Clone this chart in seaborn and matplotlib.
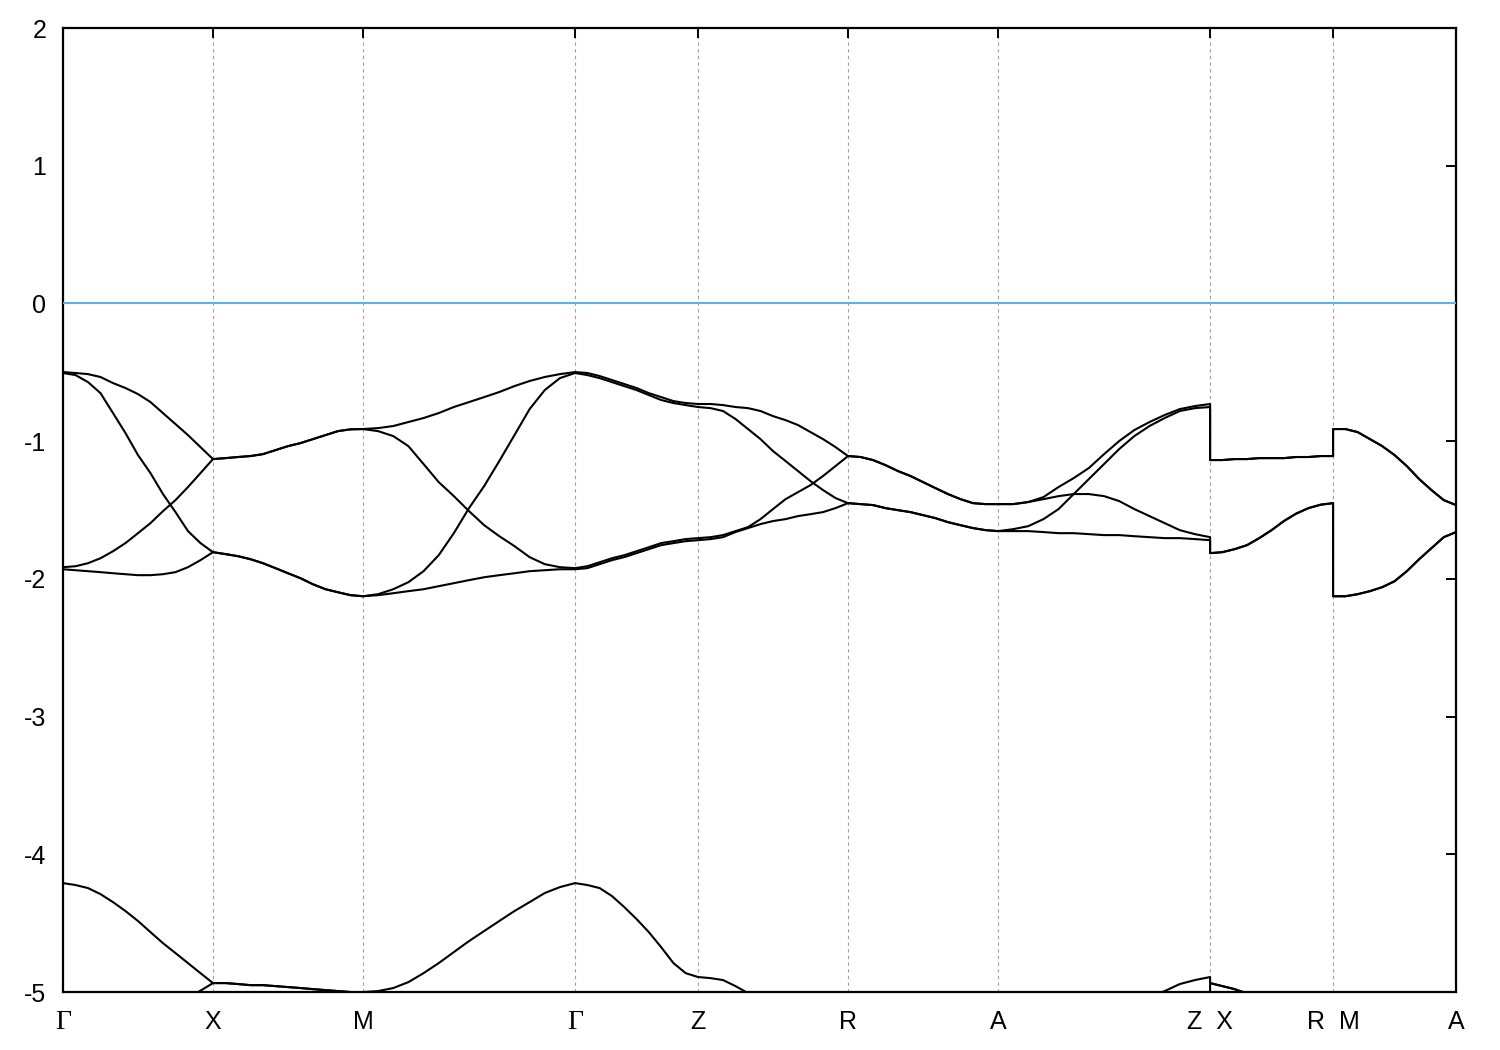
import matplotlib
matplotlib.use("Agg")
import matplotlib.pyplot as plt
import seaborn as sns
import pandas as pd

# ---------------- data ----------------
# high-symmetry points (k-path distance) and labels
K_TICKS = [0.0, 0.5, 1.0, 1.7071, 2.1171, 2.6171, 3.1171, 3.8242, 4.2342, 4.6442]
K_LABELS = ["Γ", "X", "M", "Γ", "Z", "R", "A", "Z  X", "R  M", "A"]
Y_TICKS = [-5, -4, -3, -2, -1, 0, 1, 2]

# k-path sample positions (segments: Γ-X, X-M, M-Γ, Γ-Z, Z-R, R-A, A-Z, X-R, M-A)
K = [0.0, 0.0417, 0.0833, 0.125, 0.1667, 0.2083, 0.25, 0.2917, 0.3333, 0.375, 0.4167, 0.4583, 0.5,
     0.5417, 0.5833, 0.625, 0.6667, 0.7083, 0.75, 0.7917, 0.8333, 0.875, 0.9167, 0.9583, 1.0,
     1.0505, 1.1010, 1.1515, 1.2020, 1.2525, 1.3030, 1.3536, 1.4041, 1.4546, 1.5051, 1.5556, 1.6061, 1.6566, 1.7071,
     1.7481, 1.7891, 1.8301, 1.8711, 1.9121, 1.9531, 1.9941, 2.0351, 2.0761, 2.1171,
     2.1588, 2.2004, 2.2421, 2.2838, 2.3254, 2.3671, 2.4088, 2.4504, 2.4921, 2.5338, 2.5754, 2.6171,
     2.6588, 2.7004, 2.7421, 2.7838, 2.8254, 2.8671, 2.9088, 2.9504, 2.9921, 3.0338, 3.0754, 3.1171,
     3.1676, 3.2181, 3.2686, 3.3191, 3.3696, 3.4201, 3.4707, 3.5212, 3.5717, 3.6222, 3.6727, 3.7232, 3.7737, 3.8242,
     3.8242, 3.8652, 3.9062, 3.9472, 3.9882, 4.0292, 4.0702, 4.1112, 4.1522, 4.1932, 4.2342,
     4.2342, 4.2752, 4.3162, 4.3572, 4.3982, 4.4392, 4.4802, 4.5212, 4.5622, 4.6032, 4.6442]

band1 = [-0.498, -0.505, -0.513, -0.534, -0.578, -0.614, -0.658, -0.716, -0.796, -0.876, -0.956, -1.043, -1.130,
         -1.123, -1.115, -1.108, -1.094, -1.065, -1.036, -1.014, -0.985, -0.956, -0.927, -0.914, -0.912,
         -0.905, -0.890, -0.861, -0.832, -0.796, -0.752, -0.716, -0.680, -0.643, -0.600, -0.563, -0.534, -0.513, -0.498,
         -0.505, -0.527, -0.556, -0.585, -0.614, -0.651, -0.680, -0.709, -0.723, -0.730,
         -0.730, -0.738, -0.752, -0.760, -0.781, -0.818, -0.847, -0.883, -0.934, -0.985, -1.043, -1.108,
         -1.115, -1.137, -1.174, -1.217, -1.253, -1.297, -1.341, -1.384, -1.421, -1.450, -1.457, -1.457,
         -1.457, -1.442, -1.406, -1.333, -1.268, -1.195, -1.094, -0.999, -0.919, -0.861, -0.810, -0.767, -0.745, -0.730,
         -1.137, -1.137, -1.130, -1.130, -1.123, -1.123, -1.123, -1.115, -1.115, -1.108, -1.108,
         -0.912, -0.912, -0.934, -0.985, -1.036, -1.101, -1.181, -1.275, -1.355, -1.428, -1.464]

band2 = [-0.505, -0.520, -0.571, -0.651, -0.796, -0.941, -1.101, -1.232, -1.384, -1.515, -1.653, -1.740, -1.806,
         -1.820, -1.835, -1.857, -1.886, -1.922, -1.959, -1.995, -2.039, -2.075, -2.097, -2.118, -2.126,
         -2.111, -2.075, -2.024, -1.944, -1.828, -1.668, -1.486, -1.326, -1.144, -0.956, -0.767, -0.629, -0.542, -0.505,
         -0.520, -0.542, -0.571, -0.600, -0.629, -0.665, -0.701, -0.723, -0.738, -0.752,
         -0.760, -0.781, -0.839, -0.912, -0.985, -1.072, -1.144, -1.217, -1.290, -1.355, -1.413, -1.450,
         -1.457, -1.464, -1.486, -1.501, -1.515, -1.537, -1.559, -1.588, -1.610, -1.631, -1.646, -1.653,
         -1.639, -1.617, -1.566, -1.493, -1.384, -1.275, -1.166, -1.057, -0.963, -0.890, -0.832, -0.781, -0.760, -0.752,
         -1.137, -1.137, -1.130, -1.130, -1.123, -1.123, -1.123, -1.115, -1.115, -1.108, -1.108,
         -0.912, -0.912, -0.934, -0.985, -1.036, -1.101, -1.181, -1.275, -1.355, -1.428, -1.464]

band3 = [-1.915, -1.908, -1.886, -1.850, -1.799, -1.740, -1.668, -1.595, -1.508, -1.428, -1.333, -1.232, -1.130,
         -1.123, -1.115, -1.108, -1.094, -1.065, -1.036, -1.014, -0.985, -0.956, -0.927, -0.914, -0.912,
         -0.927, -0.963, -1.036, -1.166, -1.297, -1.399, -1.508, -1.610, -1.690, -1.762, -1.842, -1.893, -1.915, -1.922,
         -1.908, -1.879, -1.850, -1.828, -1.799, -1.770, -1.740, -1.726, -1.711, -1.704,
         -1.697, -1.682, -1.653, -1.624, -1.566, -1.493, -1.421, -1.370, -1.319, -1.253, -1.181, -1.108,
         -1.115, -1.137, -1.174, -1.217, -1.253, -1.297, -1.341, -1.384, -1.421, -1.450, -1.457, -1.457,
         -1.457, -1.442, -1.421, -1.399, -1.384, -1.384, -1.399, -1.435, -1.493, -1.544, -1.595, -1.646, -1.675, -1.697,
         -1.813, -1.806, -1.784, -1.755, -1.704, -1.646, -1.580, -1.526, -1.486, -1.461, -1.450,
         -2.126, -2.126, -2.111, -2.089, -2.060, -2.017, -1.944, -1.857, -1.777, -1.697, -1.660]

band4 = [-1.930, -1.937, -1.944, -1.951, -1.959, -1.966, -1.973, -1.973, -1.966, -1.951, -1.915, -1.864, -1.806,
         -1.820, -1.835, -1.857, -1.886, -1.922, -1.959, -1.995, -2.039, -2.075, -2.097, -2.118, -2.126,
         -2.118, -2.104, -2.089, -2.075, -2.053, -2.031, -2.009, -1.988, -1.973, -1.959, -1.944, -1.937, -1.930, -1.930,
         -1.922, -1.893, -1.864, -1.842, -1.813, -1.784, -1.755, -1.740, -1.726, -1.719,
         -1.711, -1.697, -1.660, -1.631, -1.602, -1.580, -1.566, -1.544, -1.530, -1.515, -1.486, -1.450,
         -1.457, -1.464, -1.486, -1.501, -1.515, -1.537, -1.559, -1.588, -1.610, -1.631, -1.646, -1.653,
         -1.653, -1.653, -1.660, -1.668, -1.668, -1.675, -1.682, -1.682, -1.690, -1.697, -1.704, -1.704, -1.711, -1.719,
         -1.813, -1.806, -1.784, -1.755, -1.704, -1.646, -1.580, -1.526, -1.486, -1.461, -1.450,
         -2.126, -2.126, -2.111, -2.089, -2.060, -2.017, -1.944, -1.857, -1.777, -1.697, -1.660]

band5 = [-4.209, -4.223, -4.245, -4.289, -4.347, -4.412, -4.484, -4.565, -4.645, -4.717, -4.790, -4.863, -4.935,
         -4.935, -4.942, -4.950, -4.950, -4.957, -4.964, -4.971, -4.979, -4.986, -4.993, -5.000, -5.000,
         -4.993, -4.971, -4.928, -4.863, -4.790, -4.710, -4.630, -4.557, -4.484, -4.412, -4.347, -4.281, -4.238, -4.209,
         -4.223, -4.245, -4.303, -4.383, -4.470, -4.565, -4.674, -4.790, -4.863, -4.891,
         -4.899, -4.913, -4.957, -5.008, -5.060, -5.110, -5.160, -5.200, -5.230, -5.250, -5.260, -5.270,
         -5.280, -5.290, -5.300, -5.310, -5.310, -5.310, -5.300, -5.290, -5.280, -5.270, -5.260, -5.250,
         -5.240, -5.220, -5.200, -5.180, -5.160, -5.140, -5.120, -5.100, -5.070, -5.035, -4.993, -4.942, -4.913, -4.891,
         -4.935, -4.957, -4.979, -5.008, -5.040, -5.070, -5.100, -5.120, -5.140, -5.150, -5.160,
         -5.000, -5.000, -5.020, -5.050, -5.090, -5.130, -5.170, -5.200, -5.220, -5.230, -5.240]

band6 = [-5.620, -5.580, -5.530, -5.470, -5.410, -5.350, -5.290, -5.230, -5.170, -5.100, -5.040, -4.990, -4.935,
         -4.935, -4.942, -4.950, -4.950, -4.957, -4.964, -4.971, -4.979, -4.986, -4.993, -5.000, -5.000,
         -5.010, -5.040, -5.080, -5.130, -5.190, -5.250, -5.310, -5.370, -5.420, -5.460, -5.490, -5.510, -5.520, -5.520,
         -5.510, -5.500, -5.480, -5.460, -5.440, -5.420, -5.400, -5.380, -5.370, -5.360,
         -5.360, -5.370, -5.390, -5.410, -5.440, -5.470, -5.500, -5.520, -5.540, -5.550, -5.560, -5.560,
         -5.560, -5.550, -5.540, -5.520, -5.500, -5.480, -5.460, -5.450, -5.440, -5.430, -5.430, -5.420,
         -5.420, -5.430, -5.440, -5.450, -5.460, -5.460, -5.450, -5.440, -5.420, -5.400, -5.380, -5.370, -5.360, -5.350,
         -4.935, -4.957, -4.979, -5.020, -5.070, -5.120, -5.170, -5.210, -5.250, -5.280, -5.300,
         -5.000, -5.010, -5.040, -5.090, -5.150, -5.210, -5.270, -5.320, -5.360, -5.390, -5.410]

BANDS = [band1, band2, band3, band4, band5, band6]

# ---------------- plot ----------------
sns.set_style("white")
plt.rcParams["font.family"] = ["Liberation Sans", "DejaVu Sans"]

fig = plt.figure(figsize=(15, 10.5), dpi=100)
ax = fig.add_axes([0.042, 0.0552, 0.9287, 0.9181])

for b in BANDS:
    df = pd.DataFrame({"k": K, "E": b})
    sns.lineplot(data=df, x="k", y="E", sort=False, estimator=None,
                 color="black", linewidth=1.5, ax=ax)

ax.axhline(0, color="#56b4e9", linewidth=1.5, zorder=3)

ax.set_xlim(K_TICKS[0], K_TICKS[-1])
ax.set_ylim(-5, 2)
ax.set_xticks(K_TICKS)
ax.set_xticklabels(K_LABELS)
ax.set_yticks(Y_TICKS)
ax.set_yticklabels([str(v) for v in Y_TICKS])
ax.set_xlabel("")
ax.set_ylabel("")

ax.xaxis.grid(True, color="#a0a0a0", linestyle=(0, (3, 3)), linewidth=0.8)
ax.yaxis.grid(False)
ax.set_axisbelow(True)

ax.tick_params(axis="both", which="both", direction="in", length=7.5, width=1.4,
               top=True, right=True, labelsize=18, colors="black")
ax.tick_params(axis="y", pad=12)
ax.tick_params(axis="x", pad=13)

for lbl in ax.get_xticklabels():
    if lbl.get_text() == "Γ":
        lbl.set_fontfamily(["Liberation Serif", "DejaVu Serif"])
        lbl.set_fontsize(20)

for s in ax.spines.values():
    s.set_visible(True)
    s.set_color("black")
    s.set_linewidth(1.6)

leg = ax.get_legend()
if leg is not None:
    leg.remove()

fig.savefig("out.png", dpi=100, facecolor="white")
